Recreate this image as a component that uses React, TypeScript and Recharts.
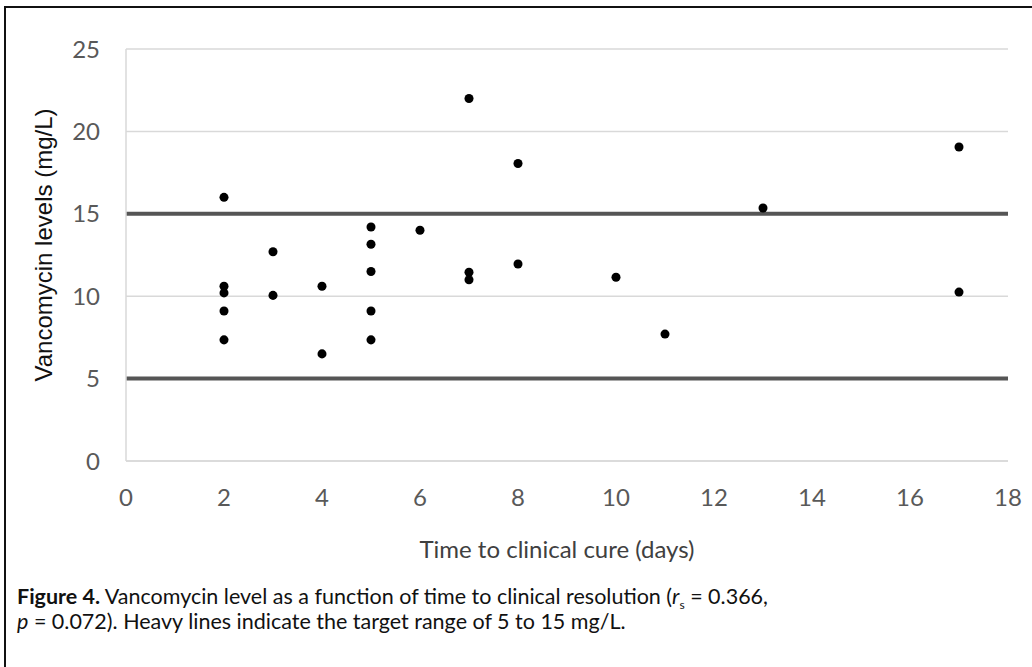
import React from "react";
import {
  ScatterChart, Scatter, XAxis, YAxis, ZAxis, CartesianGrid, ReferenceLine, Label,
} from "recharts";

// time to clinical cure (days) and vancomycin level (mg/L), one entry per patient
const days = [2, 2, 2, 2, 2, 3, 3, 4, 4, 5, 5, 5, 5, 5, 6, 7, 7, 7, 8, 8, 10, 11, 13, 17, 17];
const levels = [
  16, 10.6, 10.2, 9.1, 7.35, 12.7, 10.05, 10.6, 6.5, 14.2, 13.15, 11.5, 9.1, 7.35,
  14.0, 22.0, 11.45, 11.0, 18.05, 11.95, 11.15, 7.7, 15.35, 19.05, 10.25,
];
const xTicks = [0, 2, 4, 6, 8, 10, 12, 14, 16, 18];
const yTicks = [0, 5, 10, 15, 20, 25];
const targetRange = [5, 15];

const points = days.map((d, i) => ({ x: d, y: levels[i] }));

const tickStyle = { fontSize: 24, fill: "#595959", fontFamily: "Lato" };

function YTitle(props: any) {
  const vb = props.viewBox;
  const cx = vb.x + 42;
  const cy = 245;
  return (
    <text x={cx} y={cy} transform={`rotate(-90 ${cx} ${cy})`} textAnchor="middle"
      fontSize={24} fontFamily="Liberation Sans" fill="#111">
      Vancomycin levels (mg/L)
    </text>
  );
}

function XTitle(props: any) {
  const vb = props.viewBox;
  return (
    <text x={557} y={vb.y + 97} textAnchor="middle" fontSize={24} fontFamily="Lato" fill="#404040">
      Time to clinical cure (days)
    </text>
  );
}

export default function App() {
  return (
    <div style={{ position: "fixed", left: 0, top: 0, width: 1032, height: 667, overflow: "hidden", background: "#fff" }}>
      <div style={{ position: "absolute", left: 4, top: 6, width: 1100, height: 700,
        borderTop: "2px solid #111", borderLeft: "2px solid #111" }} />
      <div style={{ position: "absolute", left: 0, top: 0 }}>
        <ScatterChart width={1032} height={600} margin={{ top: 49, right: 24, bottom: 39, left: 10 }}>
          <CartesianGrid horizontal vertical={false} stroke="#d9d9d9" strokeWidth={1.5} />
          <XAxis type="number" dataKey="x" domain={[0, 18]} ticks={xTicks} height={100}
            tickSize={0} tickMargin={28} axisLine={{ stroke: "#d9d9d9", strokeWidth: 1.5 }} tick={tickStyle}>
            <Label content={XTitle} />
          </XAxis>
          <YAxis type="number" dataKey="y" domain={[0, 25]} ticks={yTicks} width={116}
            tickSize={0} tickMargin={26} axisLine={{ stroke: "#d9d9d9", strokeWidth: 1.5 }} tick={tickStyle}>
            <Label content={YTitle} />
          </YAxis>
          <ZAxis type="number" range={[80, 80]} />
          {targetRange.map(v => (
            <ReferenceLine key={v} y={v} stroke="#555" strokeWidth={4} />
          ))}
          <Scatter data={points} fill="#000" shape="circle" isAnimationActive={false} />
        </ScatterChart>
      </div>
      <div style={{ position: "absolute", left: 17, top: 584, fontFamily: "Lato", fontSize: 21.5,
        lineHeight: "25px", color: "#111" }}>
        <div>
          <b>Figure 4.</b> Vancomycin level as a function of time to clinical resolution (<i>r</i>
          <span style={{ fontSize: 12, position: "relative", top: 5, lineHeight: 0 }}>s</span> = 0.366,
        </div>
        <div>
          <i>p</i> = 0.072). Heavy lines indicate the target range of 5 to 15 mg/L.
        </div>
      </div>
    </div>
  );
}
